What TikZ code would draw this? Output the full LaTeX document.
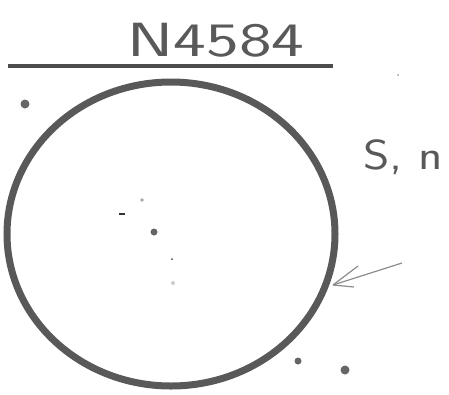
\documentclass[tikz,border=0pt]{standalone}
\usepackage{tikz}

\begin{document}
\begin{tikzpicture}[x=1pt,y=-1pt,
    ink/.style={black!65},
    star/.style={fill=black!60}]
    \useasboundingbox (0,0) rectangle (449,394);
    \coordinate (C) at (171,234);
    \coordinate (L1) at (8,66);
    \coordinate (L2) at (333,66);
    \coordinate (T) at (402,263);
    \coordinate (H) at (333,285);
    \node[ink,font=\sffamily\fontsize{48}{48}\selectfont,anchor=base,xscale=1.45](title)at(216,56){N4584};
    \node[ink,font=\sffamily\fontsize{42}{42}\selectfont,anchor=base,xscale=1.2](dir)at(403,169){S, n};
    \draw[black!70,line width=4](L1)--(L2);
    \draw[black!65,line width=7](C)ellipse[x radius=164,y radius=152];
    \draw[black!45,line width=1.2](T)--(H);
    \draw[black!45,line width=1.2](H)--(358,266) (H)--(354,287);
    \fill[star](25,104)circle(4.5);
    \fill[star](298,361)circle(3.5);
    \fill[star](345,370)circle(4.5);
    \fill[star](154,232)circle(3.5);
    \fill[black!35](142,200)circle(1.8);
    \fill[black!80](119,213)rectangle(125,214.5);
    \fill[black!70](172,259)circle(1);
    \fill[black!20](173,283)circle(2);
    \fill[black!40](398,75)circle(1);
\end{tikzpicture}
\end{document}
